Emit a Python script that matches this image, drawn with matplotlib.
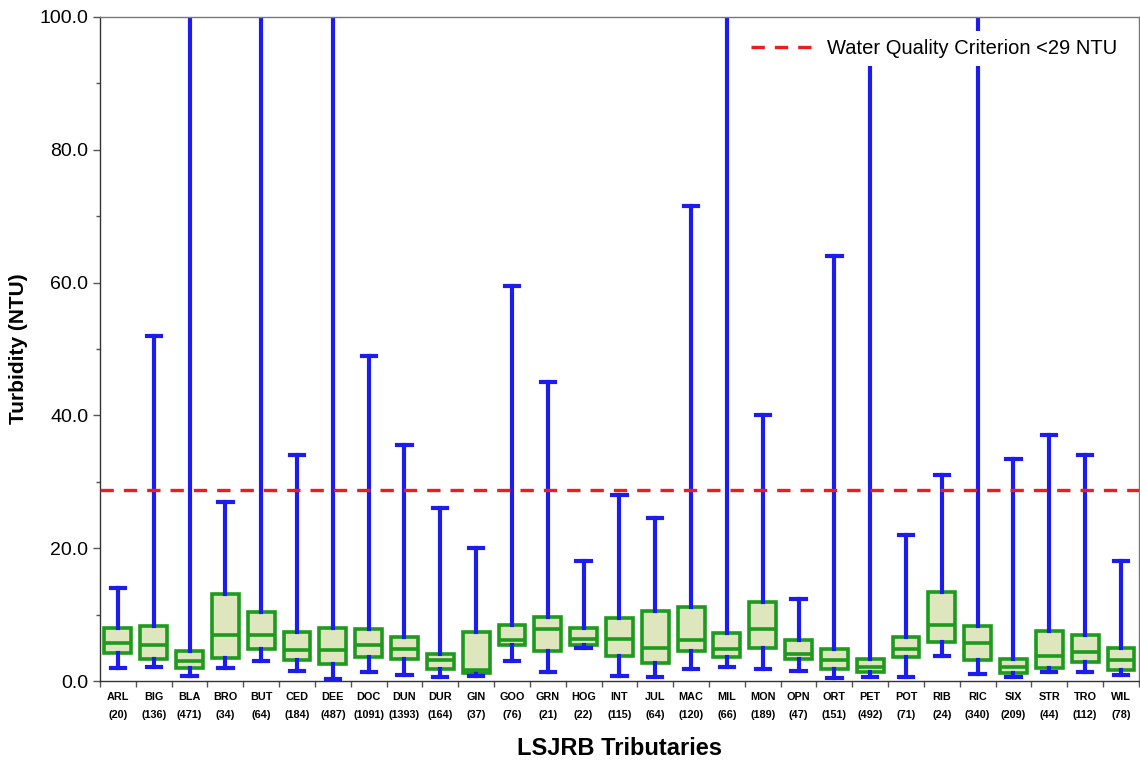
import matplotlib
matplotlib.use("Agg")
import matplotlib.pyplot as plt
from matplotlib.ticker import MultipleLocator, FixedLocator

plt.rcParams['font.family'] = ['Liberation Sans', 'DejaVu Sans']

sites = ["ARL", "BIG", "BLA", "BRO", "BUT", "CED", "DEE", "DOC", "DUN", "DUR",
         "GIN", "GOO", "GRN", "HOG", "INT", "JUL", "MAC", "MIL", "MON", "OPN",
         "ORT", "PET", "POT", "RIB", "RIC", "SIX", "STR", "TRO", "WIL"]
counts = [20, 136, 471, 34, 64, 184, 487, 1091, 1393, 164,
          37, 76, 21, 22, 115, 64, 120, 66, 189, 47,
          151, 492, 71, 24, 340, 209, 44, 112, 78]
whisker_low = [2.0, 2.1, 0.8, 2.0, 3.0, 1.5, 0.3, 1.4, 0.9, 0.6,
               0.8, 3.0, 1.4, 4.9, 0.8, 0.6, 1.8, 2.1, 1.8, 1.5,
               0.5, 0.6, 0.6, 3.8, 1.1, 0.6, 1.4, 1.4, 0.9]
q1 = [4.2, 3.3, 2.0, 3.5, 4.8, 3.2, 2.6, 3.6, 3.3, 1.8,
      1.2, 5.4, 4.5, 5.4, 3.8, 2.7, 4.5, 3.6, 5.0, 3.3,
      1.8, 1.4, 3.6, 5.9, 3.2, 1.2, 2.0, 2.9, 1.7]
median = [5.7, 5.4, 3.0, 6.9, 6.9, 4.7, 4.7, 5.4, 4.8, 3.2,
          1.7, 6.2, 7.8, 6.4, 6.4, 5.0, 6.2, 4.8, 7.8, 4.1,
          3.2, 2.1, 4.8, 8.4, 5.7, 2.1, 3.8, 4.4, 3.2]
q3 = [8.0, 8.3, 4.5, 13.1, 10.4, 7.4, 8.0, 7.8, 6.6, 4.0,
      7.4, 8.4, 9.6, 8.0, 9.5, 10.6, 11.2, 7.3, 11.9, 6.2,
      4.8, 3.3, 6.6, 13.4, 8.3, 3.3, 7.5, 6.9, 5.0]
whisker_high = [14.0, 52.0, 150.0, 27.0, 150.0, 34.0, 150.0, 49.0, 35.5, 26.0,
                20.0, 59.5, 45.0, 18.0, 28.0, 24.5, 71.5, 150.0, 40.0, 12.3,
                64.0, 93.5, 22.0, 31.0, 150.0, 33.5, 37.0, 34.0, 18.0]
criterion = 28.7
criterion_label = "Water Quality Criterion <29 NTU"

stats = []
for i in range(len(sites)):
    stats.append(dict(med=median[i], q1=q1[i], q3=q3[i],
                      whislo=whisker_low[i], whishi=whisker_high[i],
                      fliers=[], label=sites[i]))

fig = plt.figure(figsize=(11.4, 7.62), dpi=100)
ax = fig.add_axes([100/1140, 1 - 681/762, 1 - 100/1140 - 0.001, (681 - 17)/762])

positions = list(range(len(sites)))
ax.bxp(stats, positions=positions, widths=0.75, patch_artist=True,
       showfliers=False,
       boxprops=dict(facecolor="#dde6bd", edgecolor="#1e9a1e", linewidth=2.6),
       medianprops=dict(color="#1e9a1e", linewidth=2.6),
       whiskerprops=dict(color="#1c1cee", linewidth=3.0),
       capprops=dict(color="#1c1cee", linewidth=3.0),
       capwidths=0.4)

ax.axhline(criterion, color="#ee1c1c", linestyle=(0, (4, 3)), linewidth=2.4,
           label=criterion_label, zorder=3)

ax.set_xlim(-0.5, len(sites) - 0.5)
ax.set_ylim(0, 100)

ax.set_xticks(positions)
ax.set_xticklabels([f"{s}\n({c})" for s, c in zip(sites, counts)],
                   fontsize=7.8, fontweight="bold", linespacing=2.0)
ax.xaxis.set_minor_locator(FixedLocator([p - 0.5 for p in positions] + [len(sites) - 0.5]))
ax.tick_params(axis="x", which="major", length=0, pad=8)
ax.tick_params(axis="x", which="minor", length=4, width=1, color="#555555")

ax.yaxis.set_major_locator(MultipleLocator(20))
ax.yaxis.set_minor_locator(MultipleLocator(10))
ax.set_yticklabels([f"{v:.1f}" for v in ax.get_yticks()], fontsize=14)
ax.tick_params(axis="y", which="major", length=5, width=1, color="#555555")
ax.tick_params(axis="y", which="minor", length=3, width=1, color="#555555")

for sp in ax.spines.values():
    sp.set_color("#777777")
    sp.set_linewidth(1.0)
ax.spines["left"].set_color("#333333")
ax.spines["bottom"].set_color("#333333")

ax.set_ylabel("Turbidity (NTU)", fontsize=15, fontweight="bold", labelpad=8)
ax.set_xlabel("LSJRB Tributaries", fontsize=17, fontweight="bold", labelpad=12)

leg = ax.legend(loc="upper right", fontsize=14.5, frameon=True, handlelength=3.0,
                handletextpad=0.75, borderaxespad=0.7, borderpad=0.4)
leg.get_frame().set_facecolor("white")
leg.get_frame().set_edgecolor("none")
leg.get_frame().set_alpha(1)
leg.set_zorder(5)

fig.savefig("out.png", dpi=100, facecolor="white")
